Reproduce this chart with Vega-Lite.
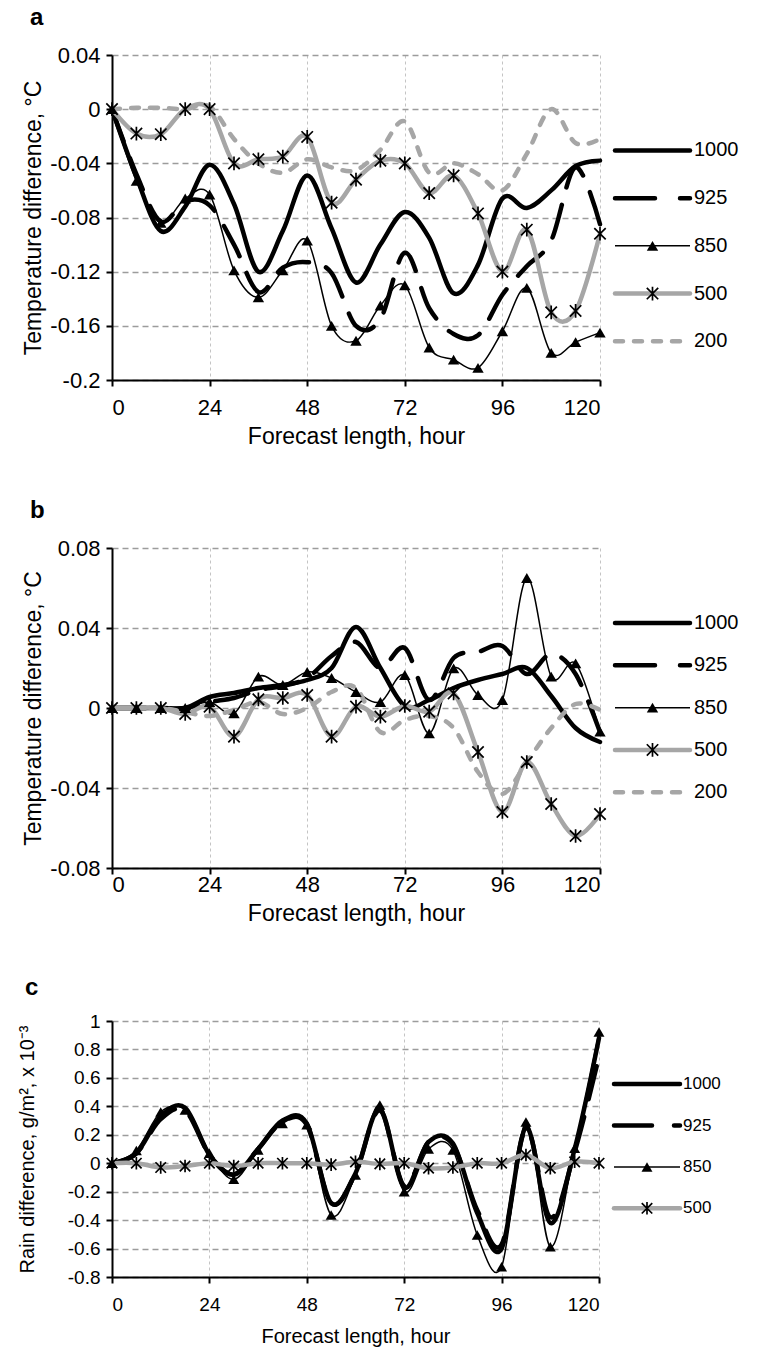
{
  "$schema": "https://vega.github.io/schema/vega-lite/v6.json",
  "padding": {"left": 16, "top": 6, "right": 5, "bottom": 2},
  "background": "white",
  "config": {
    "font": "Liberation Sans",
    "view": {"stroke": null},
    "axis": {"domainColor": "black", "domainWidth": 2, "tickColor": "black", "tickWidth": 2, "tickSize": 6, "labelColor": "black", "titleColor": "black", "titleFontWeight": "normal", "labelFontSize": 22, "titleFontSize": 23, "labelPadding": 6},
    "axisX": {"gridColor": "#c4c4c4", "gridDash": [3, 3], "gridWidth": 1, "labelPadding": 11, "titlePadding": 7},
    "axisY": {"gridColor": "#9c9c9c", "gridDash": [6, 4], "gridWidth": 1.5, "titleX": -79, "titleBaseline": "middle"},
    "title": {"anchor": "start", "fontSize": 24, "fontWeight": "bold", "color": "black", "offset": 14, "dx": 8}
  },
  "datasets": {
    "a": [
      {"h": 0, "p1000": 0, "p925": 0, "p850": 0, "p500": 0, "p200": 0},
      {"h": 6, "p1000": -0.05, "p925": -0.048, "p850": -0.053, "p500": -0.018, "p200": 0.001},
      {"h": 12, "p1000": -0.09, "p925": -0.083, "p850": -0.084, "p500": -0.0185, "p200": 0.001},
      {"h": 18, "p1000": -0.072, "p925": -0.068, "p850": -0.066, "p500": 0, "p200": 0},
      {"h": 24, "p1000": -0.041, "p925": -0.071, "p850": -0.063, "p500": 0, "p200": 0.002},
      {"h": 30, "p1000": -0.07, "p925": -0.1, "p850": -0.119, "p500": -0.04, "p200": -0.022},
      {"h": 36, "p1000": -0.12, "p925": -0.135, "p850": -0.139, "p500": -0.037, "p200": -0.04},
      {"h": 42, "p1000": -0.09, "p925": -0.117, "p850": -0.119, "p500": -0.035, "p200": -0.047},
      {"h": 48, "p1000": -0.049, "p925": -0.113, "p850": -0.097, "p500": -0.0205, "p200": -0.037},
      {"h": 54, "p1000": -0.088, "p925": -0.121, "p850": -0.16, "p500": -0.069, "p200": -0.043},
      {"h": 60, "p1000": -0.128, "p925": -0.16, "p850": -0.171, "p500": -0.052, "p200": -0.045},
      {"h": 66, "p1000": -0.1, "p925": -0.155, "p850": -0.145, "p500": -0.038, "p200": -0.03},
      {"h": 72, "p1000": -0.076, "p925": -0.106, "p850": -0.13, "p500": -0.04, "p200": -0.009},
      {"h": 78, "p1000": -0.095, "p925": -0.147, "p850": -0.176, "p500": -0.062, "p200": -0.047},
      {"h": 84, "p1000": -0.136, "p925": -0.166, "p850": -0.185, "p500": -0.049, "p200": -0.04},
      {"h": 90, "p1000": -0.115, "p925": -0.167, "p850": -0.191, "p500": -0.077, "p200": -0.048},
      {"h": 96, "p1000": -0.066, "p925": -0.137, "p850": -0.164, "p500": -0.12, "p200": -0.06},
      {"h": 102, "p1000": -0.073, "p925": -0.116, "p850": -0.132, "p500": -0.089, "p200": -0.033},
      {"h": 108, "p1000": -0.06, "p925": -0.097, "p850": -0.18, "p500": -0.15, "p200": 0},
      {"h": 114, "p1000": -0.042, "p925": -0.043, "p850": -0.172, "p500": -0.149, "p200": -0.025},
      {"h": 120, "p1000": -0.038, "p925": -0.085, "p850": -0.165, "p500": -0.092, "p200": -0.022}
    ],
    "b": [
      {"h": 0, "p1000": 0, "p925": 0, "p850": 0, "p500": 0, "p200": 0},
      {"h": 6, "p1000": 0, "p925": 0, "p850": 0, "p500": 0, "p200": 0},
      {"h": 12, "p1000": 0, "p925": 0, "p850": 0, "p500": 0, "p200": 0},
      {"h": 18, "p1000": 0, "p925": 0, "p850": 0, "p500": -0.003, "p200": -0.002},
      {"h": 24, "p1000": 0.0055, "p925": 0.003, "p850": 0.003, "p500": 0.0007, "p200": -0.004},
      {"h": 30, "p1000": 0.0075, "p925": 0.005, "p850": -0.0027, "p500": -0.0143, "p200": -0.001},
      {"h": 36, "p1000": 0.01, "p925": 0.009, "p850": 0.0157, "p500": 0.0043, "p200": 0.003},
      {"h": 42, "p1000": 0.0115, "p925": 0.011, "p850": 0.0115, "p500": 0.005, "p200": -0.003},
      {"h": 48, "p1000": 0.014, "p925": 0.015, "p850": 0.018, "p500": 0.0065, "p200": 0},
      {"h": 54, "p1000": 0.02, "p925": 0.026, "p850": 0.015, "p500": -0.0143, "p200": 0.008},
      {"h": 60, "p1000": 0.0405, "p925": 0.033, "p850": 0.008, "p500": 0.0007, "p200": 0.01},
      {"h": 66, "p1000": 0.02, "p925": 0.02, "p850": 0.003, "p500": -0.0043, "p200": -0.012},
      {"h": 72, "p1000": 0.001, "p925": 0.03, "p850": 0.0165, "p500": 0.001, "p200": -0.006},
      {"h": 78, "p1000": 0.004, "p925": 0.004, "p850": -0.0127, "p500": -0.0018, "p200": -0.004},
      {"h": 84, "p1000": 0.01, "p925": 0.025, "p850": 0.0198, "p500": 0.0073, "p200": -0.01},
      {"h": 90, "p1000": 0.014, "p925": 0.028, "p850": 0.0065, "p500": -0.022, "p200": -0.032},
      {"h": 96, "p1000": 0.017, "p925": 0.031, "p850": 0.004, "p500": -0.052, "p200": -0.043},
      {"h": 102, "p1000": 0.02, "p925": 0.017, "p850": 0.065, "p500": -0.027, "p200": -0.027},
      {"h": 108, "p1000": 0.006, "p925": 0.027, "p850": 0.0157, "p500": -0.048, "p200": -0.01},
      {"h": 114, "p1000": -0.01, "p925": 0.017, "p850": 0.0223, "p500": -0.064, "p200": 0.002},
      {"h": 120, "p1000": -0.017, "p925": -0.012, "p850": -0.0118, "p500": -0.053, "p200": -0.001}
    ],
    "c": [
      {"h": 0, "p1000": 0, "p925": 0, "p850": 0, "p500": 0},
      {"h": 6, "p1000": 0.07, "p925": 0.07, "p850": 0.09, "p500": 0},
      {"h": 12, "p1000": 0.33, "p925": 0.31, "p850": 0.36, "p500": -0.03},
      {"h": 18, "p1000": 0.39, "p925": 0.37, "p850": 0.375, "p500": -0.02},
      {"h": 24, "p1000": 0.06, "p925": 0.06, "p850": 0.07, "p500": 0},
      {"h": 30, "p1000": -0.08, "p925": -0.08, "p850": -0.113, "p500": -0.02},
      {"h": 36, "p1000": 0.1, "p925": 0.1, "p850": 0.093, "p500": 0},
      {"h": 42, "p1000": 0.3, "p925": 0.29, "p850": 0.28, "p500": 0},
      {"h": 48, "p1000": 0.28, "p925": 0.27, "p850": 0.27, "p500": 0},
      {"h": 54, "p1000": -0.28, "p925": -0.28, "p850": -0.364, "p500": -0.01},
      {"h": 60, "p1000": -0.07, "p925": -0.07, "p850": -0.083, "p500": 0.01},
      {"h": 66, "p1000": 0.38, "p925": 0.37, "p850": 0.41, "p500": -0.005},
      {"h": 72, "p1000": -0.17, "p925": -0.16, "p850": -0.2, "p500": 0},
      {"h": 78, "p1000": 0.15, "p925": 0.15, "p850": 0.1, "p500": -0.035},
      {"h": 84, "p1000": 0.14, "p925": 0.13, "p850": 0.093, "p500": -0.03},
      {"h": 90, "p1000": -0.35, "p925": -0.33, "p850": -0.505, "p500": 0},
      {"h": 96, "p1000": -0.6, "p925": -0.57, "p850": -0.728, "p500": 0},
      {"h": 102, "p1000": 0.25, "p925": 0.24, "p850": 0.29, "p500": 0.058},
      {"h": 108, "p1000": -0.42, "p925": -0.38, "p850": -0.587, "p500": -0.035},
      {"h": 114, "p1000": 0.1, "p925": 0.08, "p850": 0.105, "p500": 0.01},
      {"h": 120, "p1000": 0.88, "p925": 0.75, "p850": 0.922, "p500": 0}
    ],
    "leg": [{"s": "1000"}, {"s": "925"}, {"s": "850"}, {"s": "500"}, {"s": "200"}],
    "legc": [{"s": "1000"}, {"s": "925"}, {"s": "850"}, {"s": "500"}]
  },
  "spacing": 51,
  "vconcat": [
    {
      "title": {"text": "a"},
      "bounds": "flush",
      "spacing": 15,
      "hconcat": [
        {
          "width": 488, "height": 325,
          "data": {"name": "a"},
          "transform": [{"fold": ["p1000", "p925", "p850", "p500", "p200"], "as": ["s", "v"]}],
          "encoding": {
            "x": {"field": "h", "type": "quantitative", "scale": {"domain": [0, 120], "nice": false}, "axis": {"values": [0, 24, 48, 72, 96, 120], "title": "Forecast length, hour"}},
            "y": {"field": "v", "type": "quantitative", "scale": {"domain": [-0.2, 0.04], "nice": false, "zero": false}, "axis": {"values": [-0.2, -0.16, -0.12, -0.08, -0.04, 0, 0.04], "format": "~g", "labelExpr": "replace(datum.label, '−', '-')", "title": "Temperature difference, °C"}}
          },
          "layer": [
            {"transform": [{"filter": "datum.s === 'p1000'"}], "mark": {"type": "line", "interpolate": "cardinal", "color": "black", "strokeWidth": 4.5, "strokeCap": "round"}},
            {"transform": [{"filter": "datum.s === 'p925'"}], "mark": {"type": "line", "interpolate": "cardinal", "color": "black", "strokeWidth": 4.5, "strokeCap": "round", "strokeDash": [34, 18]}},
            {"transform": [{"filter": "datum.s === 'p850'"}], "mark": {"type": "line", "interpolate": "cardinal", "color": "black", "strokeWidth": 1.5}},
            {"transform": [{"filter": "datum.s === 'p500'"}], "mark": {"type": "line", "interpolate": "cardinal", "color": "#a6a6a6", "strokeWidth": 4.5, "strokeCap": "round"}},
            {"transform": [{"filter": "datum.s === 'p200'"}], "mark": {"type": "line", "interpolate": "cardinal", "color": "#a6a6a6", "strokeWidth": 4.5, "strokeCap": "round", "strokeDash": [8, 11]}},
            {"transform": [{"filter": "datum.s === 'p850'"}], "mark": {"type": "point", "shape": "triangle-up", "filled": true, "color": "black", "size": 130, "opacity": 1}},
            {"transform": [{"filter": "datum.s === 'p500'"}], "mark": {"type": "point", "shape": "M-1,-1L1,1M-1,1L1,-1M0,-1.2L0,1.2", "filled": false, "stroke": "black", "strokeWidth": 1.7, "size": 130, "opacity": 1}}
          ]
        },
        {
          "width": 75, "height": 334,
          "data": {"name": "leg"},
          "encoding": {"y": {"field": "s", "type": "ordinal", "scale": {"type": "point", "domain": [" ", "1000", "925", "850", "500", "200"], "padding": 1}, "axis": null}},
          "layer": [
            {"transform": [{"filter": "datum.s === '1000'"}], "mark": {"type": "rule", "color": "black", "strokeWidth": 4.5, "strokeCap": "round"}, "encoding": {"x": {"datum": 0, "type": "quantitative", "scale": {"domain": [0, 1]}, "axis": null}, "x2": {"datum": 1}}},
            {"transform": [{"filter": "datum.s === '925'"}], "mark": {"type": "rule", "color": "black", "strokeWidth": 4.5, "strokeCap": "round", "strokeDash": [40, 25]}, "encoding": {"x": {"datum": 0, "type": "quantitative"}, "x2": {"datum": 1}}},
            {"transform": [{"filter": "datum.s === '850'"}], "mark": {"type": "rule", "color": "black", "strokeWidth": 1.5}, "encoding": {"x": {"datum": 0, "type": "quantitative"}, "x2": {"datum": 1}}},
            {"transform": [{"filter": "datum.s === '500'"}], "mark": {"type": "rule", "color": "#a6a6a6", "strokeWidth": 4.5, "strokeCap": "round"}, "encoding": {"x": {"datum": 0, "type": "quantitative"}, "x2": {"datum": 1}}},
            {"transform": [{"filter": "datum.s === '200'"}], "mark": {"type": "rule", "color": "#a6a6a6", "strokeWidth": 4.5, "strokeCap": "round", "strokeDash": [8, 11]}, "encoding": {"x": {"datum": 0, "type": "quantitative"}, "x2": {"datum": 1}}},
            {"transform": [{"filter": "datum.s === '850'"}], "mark": {"type": "point", "shape": "triangle-up", "filled": true, "color": "black", "size": 130, "opacity": 1}, "encoding": {"x": {"datum": 0.5, "type": "quantitative"}}},
            {"transform": [{"filter": "datum.s === '500'"}], "mark": {"type": "point", "shape": "M-1,-1L1,1M-1,1L1,-1M0,-1.2L0,1.2", "filled": false, "stroke": "black", "strokeWidth": 1.7, "size": 130, "opacity": 1}, "encoding": {"x": {"datum": 0.5, "type": "quantitative"}}},
            {"mark": {"type": "text", "align": "left", "baseline": "middle", "dx": 4, "fontSize": 20, "color": "black"}, "encoding": {"x": {"datum": 1, "type": "quantitative"}, "text": {"field": "s"}}}
          ]
        }
      ]
    },
    {
      "title": {"text": "b"},
      "bounds": "flush",
      "spacing": 15,
      "hconcat": [
        {
          "width": 488, "height": 320,
          "data": {"name": "b"},
          "transform": [{"fold": ["p1000", "p925", "p850", "p500", "p200"], "as": ["s", "v"]}],
          "encoding": {
            "x": {"field": "h", "type": "quantitative", "scale": {"domain": [0, 120], "nice": false}, "axis": {"values": [0, 24, 48, 72, 96, 120], "title": "Forecast length, hour", "labelPadding": 0}},
            "y": {"field": "v", "type": "quantitative", "scale": {"domain": [-0.08, 0.08], "nice": false, "zero": false}, "axis": {"values": [-0.08, -0.04, 0, 0.04, 0.08], "format": "~g", "labelExpr": "replace(datum.label, '−', '-')", "title": "Temperature difference, °C"}}
          },
          "layer": [
            {"transform": [{"filter": "datum.s === 'p1000'"}], "mark": {"type": "line", "interpolate": "cardinal", "color": "black", "strokeWidth": 4.5, "strokeCap": "round"}},
            {"transform": [{"filter": "datum.s === 'p925'"}], "mark": {"type": "line", "interpolate": "cardinal", "color": "black", "strokeWidth": 4.5, "strokeCap": "round", "strokeDash": [34, 18]}},
            {"transform": [{"filter": "datum.s === 'p850'"}], "mark": {"type": "line", "interpolate": "cardinal", "color": "black", "strokeWidth": 1.5}},
            {"transform": [{"filter": "datum.s === 'p500'"}], "mark": {"type": "line", "interpolate": "cardinal", "color": "#a6a6a6", "strokeWidth": 4.5, "strokeCap": "round"}},
            {"transform": [{"filter": "datum.s === 'p200'"}], "mark": {"type": "line", "interpolate": "cardinal", "color": "#a6a6a6", "strokeWidth": 4.5, "strokeCap": "round", "strokeDash": [8, 11]}},
            {"transform": [{"filter": "datum.s === 'p850'"}], "mark": {"type": "point", "shape": "triangle-up", "filled": true, "color": "black", "size": 130, "opacity": 1}},
            {"transform": [{"filter": "datum.s === 'p500'"}], "mark": {"type": "point", "shape": "M-1,-1L1,1M-1,1L1,-1M0,-1.2L0,1.2", "filled": false, "stroke": "black", "strokeWidth": 1.7, "size": 130, "opacity": 1}}
          ]
        },
        {
          "width": 75, "height": 277,
          "data": {"name": "leg"},
          "encoding": {"y": {"field": "s", "type": "ordinal", "scale": {"type": "point", "domain": [" ", "1000", "925", "850", "500", "200"], "padding": 0.775}, "axis": null}},
          "layer": [
            {"transform": [{"filter": "datum.s === '1000'"}], "mark": {"type": "rule", "color": "black", "strokeWidth": 4.5, "strokeCap": "round"}, "encoding": {"x": {"datum": 0, "type": "quantitative", "scale": {"domain": [0, 1]}, "axis": null}, "x2": {"datum": 1}}},
            {"transform": [{"filter": "datum.s === '925'"}], "mark": {"type": "rule", "color": "black", "strokeWidth": 4.5, "strokeCap": "round", "strokeDash": [40, 25]}, "encoding": {"x": {"datum": 0, "type": "quantitative"}, "x2": {"datum": 1}}},
            {"transform": [{"filter": "datum.s === '850'"}], "mark": {"type": "rule", "color": "black", "strokeWidth": 1.5}, "encoding": {"x": {"datum": 0, "type": "quantitative"}, "x2": {"datum": 1}}},
            {"transform": [{"filter": "datum.s === '500'"}], "mark": {"type": "rule", "color": "#a6a6a6", "strokeWidth": 4.5, "strokeCap": "round"}, "encoding": {"x": {"datum": 0, "type": "quantitative"}, "x2": {"datum": 1}}},
            {"transform": [{"filter": "datum.s === '200'"}], "mark": {"type": "rule", "color": "#a6a6a6", "strokeWidth": 4.5, "strokeCap": "round", "strokeDash": [8, 11]}, "encoding": {"x": {"datum": 0, "type": "quantitative"}, "x2": {"datum": 1}}},
            {"transform": [{"filter": "datum.s === '850'"}], "mark": {"type": "point", "shape": "triangle-up", "filled": true, "color": "black", "size": 130, "opacity": 1}, "encoding": {"x": {"datum": 0.5, "type": "quantitative"}}},
            {"transform": [{"filter": "datum.s === '500'"}], "mark": {"type": "point", "shape": "M-1,-1L1,1M-1,1L1,-1M0,-1.2L0,1.2", "filled": false, "stroke": "black", "strokeWidth": 1.7, "size": 130, "opacity": 1}, "encoding": {"x": {"datum": 0.5, "type": "quantitative"}}},
            {"mark": {"type": "text", "align": "left", "baseline": "middle", "dx": 4, "fontSize": 20, "color": "black"}, "encoding": {"x": {"datum": 1, "type": "quantitative"}, "text": {"field": "s"}}}
          ]
        }
      ]
    },
    {
      "title": {"text": "c", "offset": 12},
      "bounds": "flush",
      "spacing": 15,
      "hconcat": [
        {
          "width": 487, "height": 256,
          "data": {"name": "c"},
          "transform": [{"fold": ["p1000", "p925", "p850", "p500"], "as": ["s", "v"]}],
          "encoding": {
            "x": {"field": "h", "type": "quantitative", "scale": {"domain": [0, 120], "nice": false}, "axis": {"values": [0, 24, 48, 72, 96, 120], "title": "Forecast length, hour", "labelFontSize": 19, "titleFontSize": 20, "labelPadding": 12, "titlePadding": 12}},
            "y": {"field": "v", "type": "quantitative", "scale": {"domain": [-0.8, 1], "nice": false, "zero": false}, "axis": {"values": [-0.8, -0.6, -0.4, -0.2, 0, 0.2, 0.4, 0.6, 0.8, 1], "format": "~g", "labelExpr": "replace(datum.label, '−', '-')", "title": "Rain difference, g/m², x 10⁻³", "labelFontSize": 19, "titleFontSize": 20, "titleX": -85}}
          },
          "layer": [
            {"transform": [{"filter": "datum.s === 'p1000'"}], "mark": {"type": "line", "interpolate": "cardinal", "color": "black", "strokeWidth": 4.5, "strokeCap": "round"}},
            {"transform": [{"filter": "datum.s === 'p925'"}], "mark": {"type": "line", "interpolate": "cardinal", "color": "black", "strokeWidth": 4.5, "strokeCap": "round", "strokeDash": [34, 18]}},
            {"transform": [{"filter": "datum.s === 'p850'"}], "mark": {"type": "line", "interpolate": "cardinal", "color": "black", "strokeWidth": 1.5}},
            {"transform": [{"filter": "datum.s === 'p500'"}], "mark": {"type": "line", "interpolate": "cardinal", "color": "#a6a6a6", "strokeWidth": 4.5, "strokeCap": "round"}},
            {"transform": [{"filter": "datum.s === 'p850'"}], "mark": {"type": "point", "shape": "triangle-up", "filled": true, "color": "black", "size": 120, "opacity": 1}},
            {"transform": [{"filter": "datum.s === 'p500'"}], "mark": {"type": "point", "shape": "M-1,-1L1,1M-1,1L1,-1M0,-1.2L0,1.2", "filled": false, "stroke": "black", "strokeWidth": 1.7, "size": 110, "opacity": 1}}
          ]
        },
        {
          "width": 66, "height": 209,
          "data": {"name": "legc"},
          "encoding": {"y": {"field": "s", "type": "ordinal", "scale": {"type": "point", "domain": [" ", "1000", "925", "850", "500"], "padding": 0.525}, "axis": null}},
          "layer": [
            {"transform": [{"filter": "datum.s === '1000'"}], "mark": {"type": "rule", "color": "black", "strokeWidth": 4.5, "strokeCap": "round"}, "encoding": {"x": {"datum": 0, "type": "quantitative", "scale": {"domain": [0, 1]}, "axis": null}, "x2": {"datum": 1}}},
            {"transform": [{"filter": "datum.s === '925'"}], "mark": {"type": "rule", "color": "black", "strokeWidth": 4.5, "strokeCap": "round", "strokeDash": [38, 22]}, "encoding": {"x": {"datum": 0, "type": "quantitative"}, "x2": {"datum": 1}}},
            {"transform": [{"filter": "datum.s === '850'"}], "mark": {"type": "rule", "color": "black", "strokeWidth": 1.5}, "encoding": {"x": {"datum": 0, "type": "quantitative"}, "x2": {"datum": 1}}},
            {"transform": [{"filter": "datum.s === '500'"}], "mark": {"type": "rule", "color": "#a6a6a6", "strokeWidth": 4.5, "strokeCap": "round"}, "encoding": {"x": {"datum": 0, "type": "quantitative"}, "x2": {"datum": 1}}},
            {"transform": [{"filter": "datum.s === '850'"}], "mark": {"type": "point", "shape": "triangle-up", "filled": true, "color": "black", "size": 120, "opacity": 1}, "encoding": {"x": {"datum": 0.5, "type": "quantitative"}}},
            {"transform": [{"filter": "datum.s === '500'"}], "mark": {"type": "point", "shape": "M-1,-1L1,1M-1,1L1,-1M0,-1.2L0,1.2", "filled": false, "stroke": "black", "strokeWidth": 1.7, "size": 110, "opacity": 1}, "encoding": {"x": {"datum": 0.5, "type": "quantitative"}}},
            {"mark": {"type": "text", "align": "left", "baseline": "middle", "dx": 3, "fontSize": 17, "color": "black"}, "encoding": {"x": {"datum": 1, "type": "quantitative"}, "text": {"field": "s"}}}
          ]
        }
      ]
    }
  ]
}
